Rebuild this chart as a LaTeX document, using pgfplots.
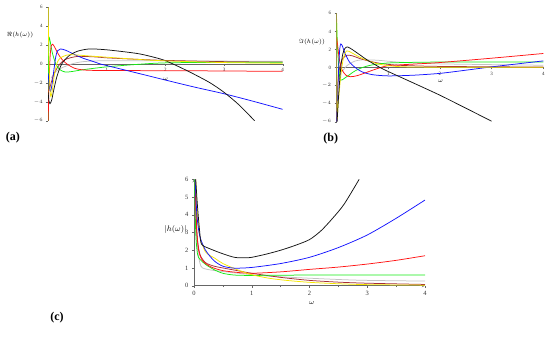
\documentclass[border=0pt]{standalone}
\usepackage{fontspec}
\setmainfont{Liberation Serif}
\usepackage{pgfplots}
\pgfplotsset{compat=1.18}
\definecolor{cblack}{RGB}{20,20,20}
\definecolor{cblue}{RGB}{20,20,255}
\definecolor{cred}{RGB}{255,20,20}
\definecolor{cgreen}{RGB}{20,235,20}
\definecolor{cyellow}{RGB}{245,230,0}
\definecolor{cbrown}{RGB}{165,45,55}
\definecolor{cgray}{RGB}{195,195,195}
\pgfplotsset{
  panel/.style={scale only axis, clip=true,
    axis line style={-,black!60, line width=0.4pt},
    tick style={black!60, line width=0.3pt},
    major tick length=2pt,
    /pgf/number format/assume math mode=true,
    every axis plot/.append style={line width=0.75pt, no marks, smooth, tension=0.45},
    xlabel near ticks, ylabel near ticks},
  mid/.style={axis lines=middle, xmin=0,xmax=4,ymin=-6,ymax=6,
    xtick={1,2,3,4}, ytick={-6,-4,-2,0,2,4,6},
    yticklabels={$-6$,$-4$,$-2$,0,2,4,6},
    hide obscured x ticks=false, hide obscured y ticks=false,
    tick label style={font=\fontsize{5}{6}\selectfont, text=black!80},
    every inner x axis line/.append style={-},
    every inner y axis line/.append style={-},
    tick align=outside,
    xticklabel style={yshift=1pt},
  },
}
\begin{document}
\begin{tikzpicture}
\useasboundingbox (0,0) rectangle (550pt,345pt);
% ---------------- (a)
\begin{axis}[panel, mid, at={(48.2pt,224.3pt)}, anchor=south west,
  width=234.5pt, height=113.4pt,
  xlabel={$\omega$}, ylabel={$\Re(h(\omega))$},
  every axis x label/.style={at={(axis description cs:0.5,0.365)},anchor=center,font=\fontsize{6}{7}\selectfont},
  every axis y label/.style={at={(axis description cs:-0.12,0.756)},anchor=center,font=\fontsize{6.5}{7}\selectfont}]
\addplot[cgray] coordinates {(0.05,-1.5)(0.1,-1.0)(0.2,-0.5)(0.4,0)(0.6,0.25)(1.0,0.35)(2.0,0.33)(4.0,0.28)};
\addplot[cbrown] coordinates {(0,0)(0.02,-2.5)(0.05,-2.0)(0.1,-1.0)(0.2,0)(0.3,0.5)(0.5,0.8)(0.8,0.75)(1.0,0.65)(1.5,0.5)(2.0,0.38)(3.0,0.25)(4.0,0.2)};
\addplot[cgreen] coordinates {(0,-6)(0.005,0)(0.012,2.7)(0.03,2.5)(0.07,1.2)(0.13,0)(0.2,-0.6)(0.29,-0.85)(0.4,-0.8)(0.6,-0.6)(1.0,-0.3)(1.5,-0.05)(2.0,0.12)(3.0,0.18)(4.0,0.18)};
\addplot[cred] coordinates {(0,-6)(0.01,-3)(0.03,0.5)(0.05,1.9)(0.07,2.1)(0.1,1.9)(0.15,1.3)(0.22,0.6)(0.32,0)(0.45,-0.45)(0.6,-0.63)(0.8,-0.68)(1.5,-0.7)(2.5,-0.72)(4.0,-0.78)};
\addplot[cblue] coordinates {(0,-1)(0.02,-2.5)(0.04,-2.9)(0.07,-2.0)(0.1,-0.5)(0.13,0.8)(0.16,1.4)(0.21,1.59)(0.3,1.45)(0.45,1.0)(0.6,0.6)(0.75,0.3)(0.89,0)(1.0,-0.17)(1.5,-0.93)(2.0,-1.7)(2.5,-2.45)(3.0,-3.15)(3.5,-3.95)(4.0,-4.8)};
\addplot[cblack] coordinates {(0,-3)(0.01,-3.8)(0.03,-4.2)(0.06,-3.8)(0.1,-2.6)(0.15,-1.3)(0.23,0)(0.35,0.85)(0.5,1.35)(0.7,1.59)(1.0,1.5)(1.5,1.13)(1.75,0.8)(2.0,0.35)(2.38,-0.74)(2.75,-1.95)(3.0,-3.0)(3.25,-4.3)(3.52,-6.0)};
\addplot[cyellow] coordinates {(0,6)(0.005,3)(0.015,0)(0.03,-2.5)(0.045,-3.45)(0.07,-2.8)(0.1,-1.4)(0.145,0)(0.2,0.6)(0.32,0.95)(0.5,0.95)(0.7,0.85)(1.0,0.72)(1.5,0.5)(2.0,0.33)(3.0,0.15)(4.0,0.08)};
\end{axis}
% ---------------- (b)
\begin{axis}[panel, mid, at={(336.6pt,223.3pt)}, anchor=south west,
  width=206.7pt, height=108.4pt,
  xlabel={$\omega$}, ylabel={$\Im(h(\omega))$},
  every axis x label/.style={at={(axis description cs:0.503,0.373)},anchor=center,font=\fontsize{6}{7}\selectfont},
  every axis y label/.style={at={(axis description cs:-0.12,0.736)},anchor=center,font=\fontsize{6.5}{7}\selectfont}]
\addplot[cgray] coordinates {(0.1,-0.5)(0.2,0.2)(0.35,0.7)(0.5,0.85)(0.8,0.8)(1.2,0.6)(2,0.4)(4,0.25)};
\addplot[cbrown] coordinates {(0,-6)(0.02,-2)(0.06,0)(0.12,1.0)(0.2,1.35)(0.3,1.3)(0.5,0.9)(0.8,0.5)(1.2,0.25)(2,0.12)(4,0.05)};
\addplot[cgreen] coordinates {(0,5)(0.02,2)(0.05,-0.5)(0.08,-1.4)(0.2,-1.0)(0.35,-0.4)(0.5,0)(0.7,0.3)(1.0,0.5)(1.5,0.57)(2.0,0.6)(4.0,0.62)};
\addplot[cred] coordinates {(0,3.3)(0.02,2.5)(0.05,1.0)(0.1,-0.2)(0.18,-0.85)(0.27,-1.02)(0.4,-0.9)(0.6,-0.5)(0.8,-0.1)(1.0,0.2)(1.5,0.38)(2.0,0.55)(3.0,1.03)(4.0,1.55)};
\addplot[cblue] coordinates {(0,-6)(0.02,-3)(0.04,0)(0.06,2.0)(0.08,2.6)(0.11,2.4)(0.16,1.6)(0.25,0.6)(0.36,0)(0.5,-0.5)(0.7,-0.8)(1.0,-0.93)(1.5,-0.85)(2.0,-0.65)(2.5,-0.3)(3.0,0.07)(3.5,0.4)(4.0,0.73)};
\addplot[cyellow] coordinates {(0,6)(0.005,0)(0.012,-5.5)(0.03,-4)(0.08,-1)(0.13,1)(0.195,1.84)(0.3,1.6)(0.5,1.0)(0.8,0.4)(1.2,0.1)(2,0.03)(4,0.02)};
\addplot[cblack] coordinates {(0.01,-6)(0.04,-3)(0.08,0)(0.12,1.5)(0.16,2.1)(0.21,2.28)(0.3,2.0)(0.45,1.4)(0.6,0.8)(0.84,0)(1.0,-0.45)(1.5,-1.75)(2.0,-3.07)(2.5,-4.5)(3.0,-5.95)};
\end{axis}
% ---------------- (c)
\begin{axis}[panel, at={(194pt,59.3pt)}, anchor=south west,
  width=231pt, height=106.4pt,
  axis lines=left, every inner x axis line/.append style={-}, every inner y axis line/.append style={-},
  axis x line*=bottom, axis y line*=left,
  xmin=0,xmax=4,ymin=0,ymax=6,
  xtick={0,1,2,3,4}, ytick={0,1,2,3,4,5,6}, minor x tick num=1,
  tick align=outside, minor tick length=1.5pt,
  tick label style={font=\fontsize{6.5}{7}\selectfont, text=black!80},
  xlabel={$\omega$}, ylabel={$|h(\omega)|$},
  every axis x label/.style={at={(axis description cs:0.51,-0.165)},anchor=center,font=\fontsize{7}{8}\selectfont},
  every axis y label/.style={at={(axis description cs:-0.08,0.53)},anchor=center,font=\fontsize{8}{9}\selectfont}]
\addplot[cgray] coordinates {(0.02,6)(0.05,2.5)(0.1,1.3)(0.15,1.0)(0.3,0.88)(0.5,0.8)(1.0,0.62)(1.5,0.5)(2.5,0.35)(3.0,0.3)(4.0,0.26)};
\addplot[cbrown] coordinates {(0.02,6)(0.05,3)(0.1,1.8)(0.2,1.3)(0.35,1.1)(0.5,1.0)(0.75,0.85)(1.0,0.7)(1.5,0.47)(2.0,0.3)(2.5,0.2)(3.0,0.14)(4.0,0.07)};
\addplot[cgreen] coordinates {(0.01,6)(0.03,3)(0.06,1.8)(0.1,1.5)(0.2,1.2)(0.35,0.9)(0.5,0.7)(0.7,0.6)(1,0.58)(2,0.6)(4,0.6)};
\addplot[cred] coordinates {(0.02,6)(0.04,3.5)(0.08,2)(0.15,1.4)(0.3,1.05)(0.5,0.85)(0.75,0.75)(1.0,0.7)(1.5,0.78)(2.0,0.92)(2.5,1.05)(3.0,1.22)(3.5,1.43)(4.0,1.69)};
\addplot[cyellow] coordinates {(0.03,6)(0.06,4)(0.1,2.8)(0.2,1.9)(0.36,1.55)(0.5,1.25)(0.75,0.9)(1.0,0.62)(1.3,0.42)(1.6,0.3)(2.0,0.19)(2.5,0.11)(3.0,0.06)(4.0,0.03)};
\addplot[cblue] coordinates {(0.02,6)(0.05,4)(0.1,2.8)(0.2,2.0)(0.35,1.4)(0.5,1.1)(0.7,0.99)(1.0,1.03)(1.5,1.25)(2.0,1.6)(2.5,2.15)(3.0,2.86)(3.5,3.8)(4.0,4.83)};
\addplot[cblack] coordinates {(0.03,6)(0.06,4.5)(0.1,3)(0.133,2.33)(0.3,2.05)(0.5,1.8)(0.7,1.6)(0.88,1.57)(1.0,1.6)(1.25,1.78)(1.5,2.0)(1.75,2.27)(2.0,2.6)(2.2,3.1)(2.4,3.8)(2.6,4.6)(2.86,6.0)};
\end{axis}
% panel labels
\node[font=\fontsize{12}{14}\selectfont\bfseries] at (12.8pt,207.5pt) {(a)};
\node[font=\fontsize{12}{14}\selectfont\bfseries] at (330.8pt,206.7pt) {(b)};
\node[font=\fontsize{12}{14}\selectfont\bfseries] at (57pt,27pt) {(c)};
\end{tikzpicture}
\end{document}
